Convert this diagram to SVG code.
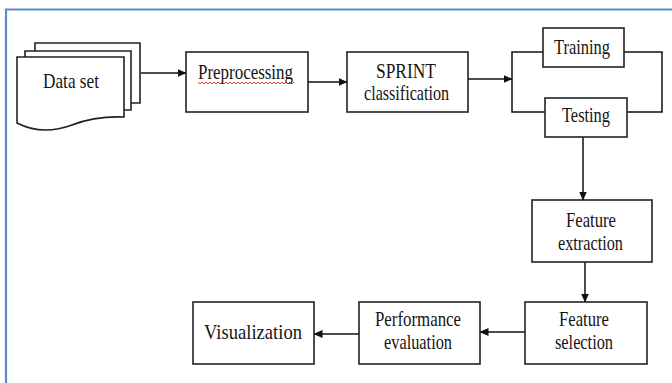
<svg xmlns="http://www.w3.org/2000/svg" width="672" height="383" viewBox="0 0 672 383">
<defs>
<marker id="ah" markerWidth="9" markerHeight="8" refX="8.5" refY="4" orient="auto" markerUnits="userSpaceOnUse">
<path d="M0,0 L9,4 L0,8 Z" fill="#111"/>
</marker>
<style>
.box{fill:#fff;stroke:#222;stroke-width:1.6}
.ln{fill:none;stroke:#111;stroke-width:1.5}
.t{font-size:21px;fill:#151515;text-anchor:middle}
</style>
</defs>
<rect width="672" height="383" fill="#fff"/>
<g id="frame" fill="none" stroke="#5b8bca" stroke-width="2.2">
<path d="M6,383 L6,9.5 L672,9.5"/>
</g>
<g id="connectors">
<path class="ln" d="M141,73 L186,73" marker-end="url(#ah)"/>
<path class="ln" d="M308,82 L347,82" marker-end="url(#ah)"/>
<path class="ln" d="M468,79 L512,79" marker-end="url(#ah)"/>
<path class="ln" d="M543,52 L512,52 L512,112 L545,112"/>
<path class="ln" d="M624,52 L662,52 L662,112 L627,112"/>
<path class="ln" d="M583,137 L583,200" marker-end="url(#ah)"/>
<path class="ln" d="M585,262 L585,302" marker-end="url(#ah)"/>
<path class="ln" d="M525,332 L480,332" marker-end="url(#ah)"/>
<path class="ln" d="M359,334 L314,334" marker-end="url(#ah)"/>
</g>
<g font-family="'Liberation Serif', 'DejaVu Serif', 'Times New Roman', serif">
<g id="dataset">
<path class="box" d="M35,51 L35,43 L140,43 L140,103 L131,103"/>
<path class="box" d="M25,57 L25,51 L131,51 L131,110 L124,110"/>
<path class="box" d="M17,57 L124,57 L124,117 Q95,116 72,125 Q42,136 17,123 Z"/>
<text class="t" x="71" y="88" textLength="56" lengthAdjust="spacingAndGlyphs">Data set</text>
</g>
<g id="preprocessing">
<rect class="box" x="186" y="52" width="122" height="60"/>
<text class="t" x="245.5" y="79" textLength="95" lengthAdjust="spacingAndGlyphs">Preprocessing</text>
<path d="M198,82 l2,2 l2,-2 l2,2 l2,-2 l2,2 l2,-2 l2,2 l2,-2 l2,2 l2,-2 l2,2 l2,-2 l2,2 l2,-2 l2,2 l2,-2 l2,2 l2,-2 l2,2 l2,-2 l2,2 l2,-2 l2,2 l2,-2 l2,2 l2,-2 l2,2 l2,-2 l2,2 l2,-2 l2,2 l2,-2 l2,2 l2,-2 l2,2 l2,-2 l2,2 l2,-2 l2,2 l2,-2 l2,2 l2,-2 l2,2 l2,-2 l2,2 l2,-2 l2,2 l2,-2" fill="none" stroke="#e02020" stroke-width="0.9"/>
</g>
<g id="sprint">
<rect class="box" x="347" y="52" width="121" height="60"/>
<text class="t" x="406" y="78" textLength="60" lengthAdjust="spacingAndGlyphs">SPRINT</text>
<text class="t" x="406.5" y="100" textLength="85" lengthAdjust="spacingAndGlyphs">classification</text>
</g>
<g id="training">
<rect class="box" x="543" y="28" width="81" height="39"/>
<text class="t" x="582" y="54" textLength="56" lengthAdjust="spacingAndGlyphs">Training</text>
</g>
<g id="testing">
<rect class="box" x="545" y="98" width="82" height="39"/>
<text class="t" x="586" y="122" textLength="48" lengthAdjust="spacingAndGlyphs">Testing</text>
</g>
<g id="feature-extraction">
<rect class="box" x="532" y="200" width="120" height="62"/>
<text class="t" x="591" y="227" textLength="50" lengthAdjust="spacingAndGlyphs">Feature</text>
<text class="t" x="590.5" y="250" textLength="65" lengthAdjust="spacingAndGlyphs">extraction</text>
</g>
<g id="feature-selection">
<rect class="box" x="525" y="302" width="122" height="62"/>
<text class="t" x="584" y="326" textLength="50" lengthAdjust="spacingAndGlyphs">Feature</text>
<text class="t" x="584" y="349" textLength="58" lengthAdjust="spacingAndGlyphs">selection</text>
</g>
<g id="performance-evaluation">
<rect class="box" x="359" y="302" width="121" height="62"/>
<text class="t" x="418" y="326" textLength="86" lengthAdjust="spacingAndGlyphs">Performance</text>
<text class="t" x="418" y="349" textLength="68" lengthAdjust="spacingAndGlyphs">evaluation</text>
</g>
<g id="visualization">
<rect class="box" x="193" y="302" width="121" height="62"/>
<text class="t" x="253" y="339" textLength="98" lengthAdjust="spacingAndGlyphs">Visualization</text>
</g>
</g>
</svg>
